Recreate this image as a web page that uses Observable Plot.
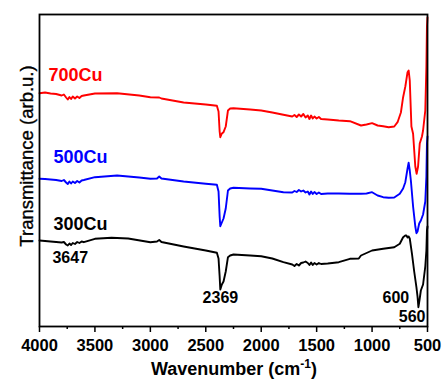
<!DOCTYPE html>
<html><head><meta charset="utf-8">
<script src="https://cdn.jsdelivr.net/npm/d3@7"></script>
<script src="https://cdn.jsdelivr.net/npm/@observablehq/plot@0.6"></script>
<style>body{margin:0;background:#fff}</style>
</head><body><div id="chart"></div>
<script>
// FTIR spectra, transmittance in arbitrary units (offset per sample)
const wn700 = [4000,3950,3900,3850,3800,3780,3760,3745,3730,3715,3700,3680,3660,3640,3620,3600,3500,3300,3100,3000,2920,2900,2700,2500,2400,2385,2375,2369,2355,2340,2320,2300,2280,2250,2100,2000,1900,1800,1720,1700,1680,1660,1640,1620,1600,1580,1565,1550,1535,1520,1500,1480,1460,1400,1300,1200,1100,1050,1000,950,900,850,800,770,740,720,700,680,670,660,645,630,610,598,585,570,550,540,520,510,505,500];
const t700  = [233.3,234,233,232.5,231,232,229,227,229.5,227.5,230,228,230,228.5,230.5,231,233,233.3,231,229.3,229,228,224,222,220.7,215,195,189.3,193,194.3,200,216,218,218.3,217,216,214,211.7,210,211.5,209.5,212,210,212.5,209,211,207.5,211,208,210,208,209.5,207.5,207,206,205.3,201,202,203.3,201,200.3,199.3,200,204.3,214,229.3,240,254.3,256,246,200,192.7,160,152.7,160,183,190,196,216,260,300,309];

const wn500 = [4000,3950,3900,3850,3800,3780,3760,3745,3730,3715,3700,3680,3660,3640,3620,3600,3500,3300,3100,3000,2940,2920,2900,2700,2500,2400,2385,2375,2369,2355,2340,2320,2300,2280,2250,2100,2000,1900,1800,1720,1700,1680,1660,1640,1620,1600,1580,1565,1550,1535,1520,1500,1480,1460,1400,1300,1200,1100,1050,1000,950,900,850,800,750,720,700,680,670,660,650,630,610,600,590,575,560,540,520,510,505,500];
const t500  = [147.7,147.5,147,146.5,145.5,146.5,144,142.5,145,143,145,143.5,145.5,144,146,146.5,149.3,151,149,147.7,148,150,148,145,142.7,141.7,135,110,100.3,104,108,118,136,138,138.7,138,137.7,136,134.3,134,135.5,134.5,136.5,135,136,134,135,132,135,132.5,134.5,132.5,134,132.5,133,133,132.7,132.7,133,134.3,131,129.3,128.7,129,132.7,138,144.3,158,163.7,156,146,120,100,93.3,95,103,106,112,125,150,182.7,190];

const wn300 = [4000,3950,3900,3850,3800,3780,3760,3745,3730,3715,3700,3680,3660,3640,3620,3600,3500,3350,3200,3000,2940,2920,2900,2700,2500,2400,2385,2375,2369,2355,2340,2320,2300,2280,2250,2100,2000,1900,1800,1720,1700,1680,1660,1640,1620,1600,1580,1565,1550,1535,1520,1500,1480,1460,1400,1300,1200,1120,1100,1000,900,800,750,720,700,690,680,670,660,640,620,600,590,582,570,560,540,520,510,505,500];
const t300  = [86,85.5,85,84.5,84,84.5,82,81,83,81.5,83.5,82.5,84.5,83.5,85,84.3,87.7,88.7,88,84.3,85,86.5,84.5,80,76,73.7,68,50,37,42,45,55,69.3,71,72,71,70.3,68,64.3,62,60.5,62.5,61,63.5,64,65,63.5,61.5,64,61.5,63.5,62,63.5,62.5,63,64.3,67.7,68,71,76,77.7,79.3,82.7,89.3,91,91,89,90,88,72.7,55,39.3,30,19.3,28,36,42,60,76,96,100];

const seriesNames = ["700Cu","500Cu","300Cu"];
const seriesColors = ["#ff0000","#0000ff","#000000"];
const labelWn = [3919,3874,3874];
const labelT  = [251,169,102];

const peakLabels = ["3647","2369","600","560"];
const peakWn = [3883,2368,785,639];
const peakT  = [69,29,29,10];

const xTicks = [4000,3500,3000,2500,2000,1500,1000,500];
const xMinor = [3750,3250,2750,2250,1750,1250,750];

const rows = [];
[[wn700,t700],[wn500,t500],[wn300,t300]].forEach(([w,t],i)=>{
  w.forEach((x,j)=>rows.push({wn:x,t:t[j],s:seriesNames[i]}));
});
const labels = seriesNames.map((n,i)=>({text:n,wn:labelWn[i],t:labelT[i],c:seriesColors[i]}));
const peaks = peakLabels.map((n,i)=>({text:n,wn:peakWn[i],t:peakT[i]}));

const font = "Liberation Sans, Arial, sans-serif";
const chart = Plot.plot({
  width:445, height:381,
  marginLeft:39, marginRight:18, marginTop:14, marginBottom:55,
  style:{fontFamily:font, background:"#fff"},
  x:{domain:[4000,500]},
  y:{domain:[0,312], axis:null},
  color:{domain:seriesNames, range:seriesColors},
  marks:[
    Plot.line(rows,{x:"wn",y:"t",z:"s",stroke:"s",strokeWidth:1.9,curve:"linear"}),
    Plot.frame({stroke:"black",strokeWidth:1.8}),
    Plot.axisX({ticks:xTicks,tickSize:6,tickPadding:7,tickFormat:d=>String(d),fontSize:16.5,fontWeight:"bold",label:null,stroke:"black",strokeWidth:1.5}),
    Plot.axisX({ticks:xMinor,tickSize:3,text:null,label:null,strokeWidth:1.5}),
    Plot.text(labels,{x:"wn",y:"t",text:"text",fill:"c",textAnchor:"start",fontSize:18,fontWeight:"bold"}),
    Plot.text(peaks.slice(0,1),{x:"wn",y:"t",text:"text",fill:"black",textAnchor:"start",fontSize:16,fontWeight:"bold"}),
    Plot.text(peaks.slice(1),{x:"wn",y:"t",text:"text",fill:"black",textAnchor:"middle",fontSize:16,fontWeight:"bold"})
  ]
});
const svg = d3.select(chart);
svg.selectAll("text").attr("fill-opacity",null);
const xl = svg.append("text").attr("x",234).attr("y",375).attr("text-anchor","middle")
  .attr("font-size",18).attr("font-weight","bold").attr("font-family",font).attr("fill","black");
xl.append("tspan").text("Wavenumber (cm");
xl.append("tspan").attr("dy",-7).attr("font-size",12).text("-1");
xl.append("tspan").attr("dy",7).text(")");
svg.append("text").attr("transform","translate(33,156) rotate(-90)").attr("text-anchor","middle")
  .attr("font-size",18.5).attr("font-family",font).attr("fill","black")
  .attr("stroke","black").attr("stroke-width",0.35).text("Transmittance (arb.u.)");
document.getElementById("chart").appendChild(chart);
</script></body></html>
